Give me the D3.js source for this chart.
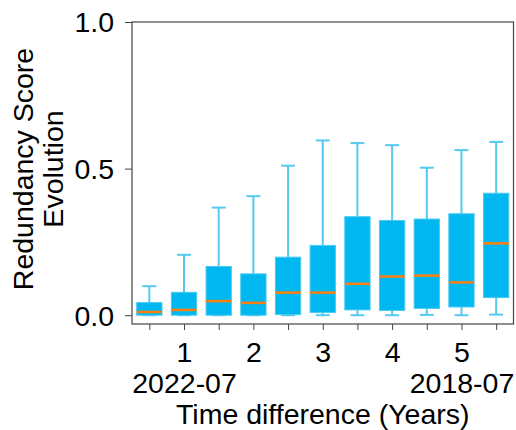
<!DOCTYPE html>
<html>
<head>
<meta charset="utf-8">
<script src="https://cdn.jsdelivr.net/npm/d3@7"></script>
<style>
  body { margin: 0; background: #fff; }
  text { font-family: "Liberation Sans", Arial, sans-serif; fill: #000; }
</style>
</head>
<body>
<div id="chart"></div>
<script>
// tick labels under each box (only every other one is labelled)
var yearLabels = ["", "1", "", "2", "", "3", "", "4", "", "5", ""];
var dateLabels = ["", "2022-07", "", "", "", "", "", "", "", "2018-07", ""];

// box statistics
var whiskerLow  = [0.000, 0.000, 0.000, 0.000, 0.000, 0.000, 0.000, 0.000, 0.001, 0.000, 0.002];
var q1          = [0.000, 0.000, 0.000, 0.000, 0.002, 0.009, 0.018, 0.016, 0.023, 0.028, 0.060];
var median      = [0.011, 0.018, 0.048, 0.042, 0.077, 0.077, 0.107, 0.132, 0.135, 0.112, 0.245];
var q3          = [0.043, 0.078, 0.166, 0.141, 0.198, 0.238, 0.336, 0.323, 0.328, 0.346, 0.416];
var whiskerHigh = [0.099, 0.206, 0.367, 0.406, 0.510, 0.596, 0.587, 0.580, 0.503, 0.563, 0.591];

var yTicks = [0, 0.5, 1.0];

var width = 516,
    height = 430,
    plotLeft = 132, plotRight = 513.5, plotTop = 22, plotBottom = 324,
    fontSize = "28.5px";

var boxes = yearLabels.map(function(d, i) {
    return {i: i, lo: whiskerLow[i], q1: q1[i], med: median[i], q3: q3[i], hi: whiskerHigh[i]};
});

var x = d3.scalePoint()
    .domain(d3.range(yearLabels.length))
    .range([plotLeft, plotRight])
    .padding(0.5);

var y = d3.scaleLinear()
    .domain([-0.03, 1.0])
    .range([plotBottom, plotTop]);

var boxW = x.step() * 0.73,
    capW = boxW * 0.55;

var svg = d3.select("#chart")
    .append("svg")
    .attr("width", width)
    .attr("height", height);

// frame
svg.append("rect")
    .attr("x", plotLeft)
    .attr("y", plotTop)
    .attr("width", plotRight - plotLeft)
    .attr("height", plotBottom - plotTop)
    .style("fill", "none")
    .style("stroke", "#444")
    .style("stroke-width", 1.2);

var g = svg.append("g").attr("class", "boxes")
    .selectAll(".box")
    .data(boxes)
    .enter()
    .append("g")
    .attr("class", "box");

var whiskerColor = "#55c9ef";

// whiskers
g.append("line")
    .attr("x1", d => x(d.i)).attr("x2", d => x(d.i))
    .attr("y1", d => y(d.q3)).attr("y2", d => y(d.hi))
    .style("stroke", whiskerColor).style("stroke-width", 2);
g.append("line")
    .attr("x1", d => x(d.i)).attr("x2", d => x(d.i))
    .attr("y1", d => y(d.q1)).attr("y2", d => y(d.lo))
    .style("stroke", whiskerColor).style("stroke-width", 2);

// caps
g.append("line")
    .attr("x1", d => x(d.i) - capW / 2).attr("x2", d => x(d.i) + capW / 2)
    .attr("y1", d => y(d.hi)).attr("y2", d => y(d.hi))
    .style("stroke", whiskerColor).style("stroke-width", 2);
g.append("line")
    .attr("x1", d => x(d.i) - capW / 2).attr("x2", d => x(d.i) + capW / 2)
    .attr("y1", d => y(d.lo)).attr("y2", d => y(d.lo))
    .style("stroke", whiskerColor).style("stroke-width", 2);

// box
g.append("rect")
    .attr("x", d => x(d.i) - boxW / 2)
    .attr("y", d => y(d.q3))
    .attr("width", boxW)
    .attr("height", d => y(d.q1) - y(d.q3))
    .style("fill", "#00b8ef")
    .style("stroke", "#4ccaf2")
    .style("stroke-width", 1);

// median
g.append("line")
    .attr("x1", d => x(d.i) - boxW / 2).attr("x2", d => x(d.i) + boxW / 2)
    .attr("y1", d => y(d.med)).attr("y2", d => y(d.med))
    .style("stroke", "#ff7f0e").style("stroke-width", 2.5);

// y axis
var yAxis = svg.append("g")
    .attr("transform", "translate(" + plotLeft + ",0)")
    .call(d3.axisLeft(y).tickValues(yTicks).tickFormat(d3.format(".1f")).tickSize(7).tickPadding(11));
yAxis.select(".domain").remove();
yAxis.selectAll("line").style("stroke", "#444");
yAxis.selectAll("text").style("font-size", fontSize).attr("dy", "0.35em");

// x axis
var xAxis = svg.append("g")
    .attr("transform", "translate(0," + plotBottom + ")")
    .call(d3.axisBottom(x).tickFormat(d => yearLabels[d]).tickSize(6).tickPadding(11));
xAxis.select(".domain").remove();
xAxis.selectAll("line").style("stroke", "#444");
xAxis.selectAll("text")
    .style("font-size", fontSize)
    .attr("dy", null)
    .attr("y", 38);
xAxis.selectAll(".tick")
    .append("text")
    .attr("y", 69)
    .attr("text-anchor", "middle")
    .style("font-size", fontSize)
    .style("fill", "#000")
    .text(d => dateLabels[d]);

// axis titles
svg.append("text")
    .attr("x", (plotLeft + plotRight) / 2)
    .attr("y", 424)
    .attr("text-anchor", "middle")
    .style("font-size", fontSize)
    .text("Time difference (Years)");

svg.append("text")
    .attr("transform", "translate(33,169) rotate(-90)")
    .attr("text-anchor", "middle")
    .style("font-size", fontSize)
    .text("Redundancy Score");
svg.append("text")
    .attr("transform", "translate(63,169) rotate(-90)")
    .attr("text-anchor", "middle")
    .style("font-size", fontSize)
    .text("Evolution");
</script>
</body>
</html>
